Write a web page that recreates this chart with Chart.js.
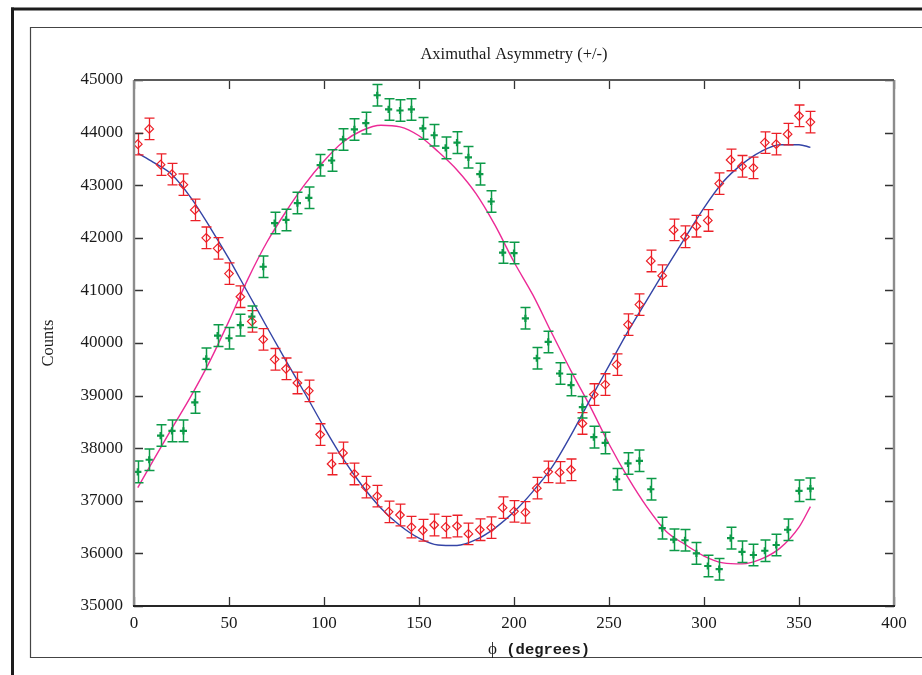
<!DOCTYPE html>
<html>
<head>
<meta charset="utf-8">
<title>Aximuthal Asymmetry (+/-)</title>
<script src="https://cdn.jsdelivr.net/npm/chart.js@4.4.1/dist/chart.umd.min.js"></script>
<style>
  html, body { margin: 0; padding: 0; background: #fff; }
  canvas { display: block; }
</style>
</head>
<body>
<canvas id="chart" width="922" height="675"></canvas>
<script>
// Azimuthal bins (degrees)
const phi = [2, 8, 14, 20, 26, 32, 38, 44, 50, 56, 62, 68, 74, 80, 86, 92, 98, 104, 110, 116,
  122, 128, 134, 140, 146, 152, 158, 164, 170, 176, 182, 188, 194, 200, 206, 212, 218, 224, 230, 236,
  242, 248, 254, 260, 266, 272, 278, 284, 290, 296, 302, 308, 314, 320, 326, 332, 338, 344, 350, 356];

// Counts for the (+) sample, red diamonds
const countsPlus = [43780, 44070, 43390, 43210, 43010, 42530, 42000, 41800, 41320, 40880,
  40410, 40070, 39690, 39510, 39240, 39090, 38260, 37700, 37910, 37510,
  37260, 37090, 36790, 36730, 36500, 36440, 36540, 36500, 36520, 36370,
  36450, 36490, 36870, 36800, 36780, 37240, 37550, 37540, 37590, 38470,
  39020, 39210, 39590, 40350, 40730, 41560, 41280, 42150, 42020, 42220,
  42330, 43030, 43480, 43360, 43330, 43810, 43780, 43970, 44320, 44200];

// Counts for the (-) sample, green crosses
const countsMinus = [37550, 37780, 38240, 38330, 38330, 38870, 39700, 40140, 40090, 40340,
  40500, 41450, 42280, 42340, 42660, 42760, 43380, 43470, 43870, 44060,
  44180, 44710, 44440, 44420, 44440, 44080, 43950, 43710, 43810, 43530,
  43210, 42690, 41720, 41710, 40470, 39710, 40020, 39420, 39200, 38780,
  38210, 38100, 37410, 37710, 37760, 37220, 36480, 36260, 36250, 36000,
  35760, 35700, 36290, 36030, 35970, 36050, 36160, 36450, 37190, 37230];

// Statistical error on each count (half-length of the error bar)
const errPlus = 205;
const errMinus = 205;

// Fitted curves, sampled along phi
const fitPhi = [2, 10, 20, 30, 40, 50, 60, 70, 80, 90, 100, 110, 120, 130, 140, 150, 160, 170, 180,
  190, 200, 210, 220, 230, 240, 250, 260, 270, 280, 290, 300, 310, 320, 330, 340, 350, 356];
const fitPlus = [43610, 43440, 43200, 42760, 42200, 41600, 40950, 40300, 39660, 39040,
  38400, 37800, 37290, 36860, 36530, 36290, 36160, 36150, 36260,
  36480, 36790, 37180, 37640, 38250, 38920, 39570, 40220, 40820, 41420,
  42000, 42570, 43060, 43400, 43640, 43770, 43770, 43720];
const fitMinus = [37250, 37760, 38380, 38990, 39660, 40420, 41220, 41920, 42500, 43020,
  43460, 43820, 44040, 44140, 44110, 43940, 43640, 43290, 42840,
  42240, 41540, 40910, 40180, 39470, 38800, 38080, 37440, 36880, 36420,
  36170, 35950, 35820, 35800, 35890, 36100, 36500, 36890];

// Axis ranges and tick spacing
const xRange = [0, 400];
const xStep = 50;
const yRange = [35000, 45000];
const yStep = 1000;

const RED = '#ec2028';
const GREEN = '#0c9a48';
const BLUE = '#3444a6';
const MAGENTA = '#ec2a96';

const pts = (xs, ys) => xs.map((x, i) => ({ x: x, y: ys[i] }));

const serif = 'Liberation Serif, Times New Roman, serif';
const mono = 'Liberation Mono, DejaVu Sans Mono, monospace';

// Page frame, plot box with inward ticks, horizontal axis caption
const framePlugin = {
  id: 'framePlugin',
  beforeDraw(chart) {
    const ctx = chart.ctx;
    const W = chart.width, H = chart.height;
    ctx.save();
    ctx.fillStyle = '#ffffff';
    ctx.fillRect(0, 0, W, H);
    ctx.fillStyle = '#1c1c1c';
    ctx.fillRect(11, 7.5, W - 11, 3);
    ctx.fillRect(11, 7.5, 3, H - 7.5);
    ctx.strokeStyle = '#444';
    ctx.lineWidth = 1.2;
    ctx.beginPath();
    ctx.moveTo(W, 27.5);
    ctx.lineTo(30.5, 27.5);
    ctx.lineTo(30.5, 657.5);
    ctx.lineTo(W, 657.5);
    ctx.stroke();
    ctx.restore();
  },
  afterDraw(chart) {
    const ctx = chart.ctx;
    const { left, right, top, bottom } = chart.chartArea;
    const xs = chart.scales.x, ys = chart.scales.y;
    const tl = 9;
    ctx.save();
    ctx.strokeStyle = '#333';
    ctx.lineWidth = 1.3;
    ctx.beginPath();
    xs.ticks.forEach(t => {
      const p = Math.round(xs.getPixelForValue(t.value)) + 0.5;
      ctx.moveTo(p, bottom); ctx.lineTo(p, bottom - tl);
      ctx.moveTo(p, top); ctx.lineTo(p, top + tl);
    });
    ys.ticks.forEach(t => {
      const p = Math.round(ys.getPixelForValue(t.value)) + 0.5;
      ctx.moveTo(left, p); ctx.lineTo(left + tl, p);
      ctx.moveTo(right, p); ctx.lineTo(right - tl, p);
    });
    ctx.stroke();
    // left and right edges
    ctx.strokeStyle = '#8c8c8c';
    ctx.lineWidth = 2.4;
    ctx.beginPath();
    ctx.moveTo(left, top); ctx.lineTo(left, bottom);
    ctx.moveTo(right, top); ctx.lineTo(right, bottom);
    ctx.stroke();
    // top and bottom edges
    ctx.strokeStyle = '#5a5a5a';
    ctx.lineWidth = 2;
    ctx.beginPath();
    ctx.moveTo(left, top); ctx.lineTo(right, top);
    ctx.stroke();
    ctx.strokeStyle = '#262626';
    ctx.lineWidth = 1.8;
    ctx.beginPath();
    ctx.moveTo(left - 1, bottom); ctx.lineTo(right + 1, bottom);
    ctx.stroke();
    // horizontal axis caption, offset to the right of the plot centre
    ctx.fillStyle = '#1a1a1a';
    ctx.textBaseline = 'middle';
    ctx.textAlign = 'left';
    ctx.font = 'normal 17px ' + serif;
    ctx.fillText('ϕ', 488, 650);
    ctx.font = 'bold 15.5px ' + mono;
    ctx.fillText(' (degrees)', 497, 650);
    ctx.restore();
  }
};

// Vertical error bars with caps for the measured points
const errorBarPlugin = {
  id: 'errorBarPlugin',
  afterDatasetsDraw(chart) {
    const ctx = chart.ctx;
    const ys = chart.scales.y;
    const cap = 5;
    ctx.save();
    chart.data.datasets.forEach((ds, di) => {
      if (ds.errorBar === undefined) return;
      const meta = chart.getDatasetMeta(di);
      ctx.strokeStyle = ds.borderColor;
      ctx.lineWidth = ds.errorWidth;
      ctx.beginPath();
      meta.data.forEach((el, i) => {
        const v = ds.data[i].y;
        const x = Math.round(el.x) + 0.5;
        const yHi = ys.getPixelForValue(v + ds.errorBar);
        const yLo = ys.getPixelForValue(v - ds.errorBar);
        ctx.moveTo(x, yHi); ctx.lineTo(x, yLo);
        ctx.moveTo(x - cap, yHi); ctx.lineTo(x + cap, yHi);
        ctx.moveTo(x - cap, yLo); ctx.lineTo(x + cap, yLo);
      });
      ctx.stroke();
    });
    ctx.restore();
  }
};

new Chart(document.getElementById('chart').getContext('2d'), {
  type: 'scatter',
  data: {
    datasets: [
      {
        label: '+',
        data: pts(phi, countsPlus),
        errorBar: errPlus,
        errorWidth: 1.3,
        pointStyle: 'rectRot',
        pointRadius: 4.3,
        borderColor: RED,
        backgroundColor: 'rgba(0,0,0,0)',
        borderWidth: 1.2,
        showLine: false
      },
      {
        label: '-',
        data: pts(phi, countsMinus),
        errorBar: errMinus,
        errorWidth: 1.5,
        pointStyle: 'cross',
        pointRadius: 3.6,
        borderColor: GREEN,
        backgroundColor: GREEN,
        borderWidth: 2.2,
        showLine: false
      },
      {
        label: 'fit +',
        data: pts(fitPhi, fitPlus),
        showLine: true,
        pointRadius: 0,
        borderColor: BLUE,
        borderWidth: 1.4,
        cubicInterpolationMode: 'monotone',
        fill: false
      },
      {
        label: 'fit -',
        data: pts(fitPhi, fitMinus),
        showLine: true,
        pointRadius: 0,
        borderColor: MAGENTA,
        borderWidth: 1.4,
        cubicInterpolationMode: 'monotone',
        fill: false
      }
    ]
  },
  options: {
    responsive: false,
    animation: false,
    events: [],
    layout: { padding: { left: 30, right: 28, top: 0, bottom: 0 } },
    plugins: {
      legend: { display: false },
      tooltip: { enabled: false },
      title: {
        display: true,
        text: 'Aximuthal Asymmetry (+/-)',
        fullSize: false,
        color: '#1a1a1a',
        font: { family: serif, size: 16.5, weight: 'normal', lineHeight: 1 },
        padding: { top: 46.5, bottom: 17 }
      }
    },
    scales: {
      x: {
        type: 'linear',
        min: xRange[0],
        max: xRange[1],
        grid: { display: false, drawTicks: false },
        border: { display: false },
        ticks: {
          stepSize: xStep,
          maxRotation: 0,
          padding: 7,
          color: '#1a1a1a',
          font: { family: serif, size: 17 },
          callback: v => String(v)
        },
        title: { display: false },
        afterFit(s) { s.height = 69; s.paddingLeft = 0; s.paddingRight = 0; }
      },
      y: {
        type: 'linear',
        min: yRange[0],
        max: yRange[1],
        grid: { display: false, drawTicks: false },
        border: { display: false },
        ticks: {
          stepSize: yStep,
          padding: 11,
          color: '#1a1a1a',
          font: { family: serif, size: 17 },
          callback: v => String(v)
        },
        title: {
          display: true,
          text: 'Counts',
          color: '#1a1a1a',
          font: { family: serif, size: 16.5, weight: 'normal', lineHeight: 1 },
          padding: { top: 10, bottom: 0 }
        },
        afterFit(s) { s.width = 104; }
      }
    }
  },
  plugins: [framePlugin, errorBarPlugin]
});
</script>
</body>
</html>
